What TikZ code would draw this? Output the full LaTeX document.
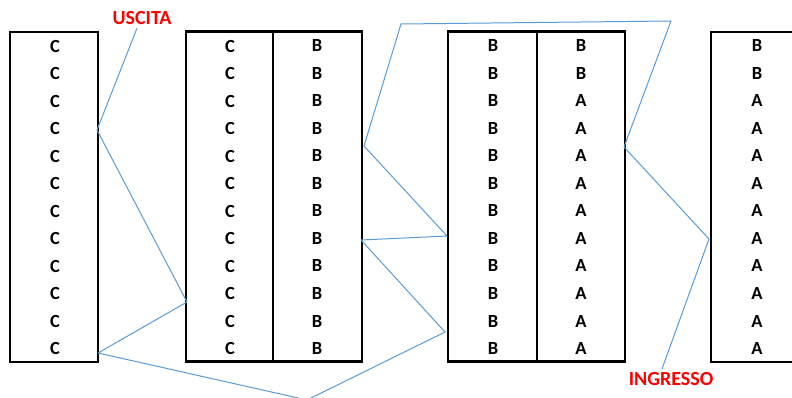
\documentclass[tikz,border=0pt]{standalone}
\usepackage{fontspec}
\setmainfont{Carlito}
\usepackage{tikz}
\usetikzlibrary{positioning}
\definecolor{flowblue}{RGB}{91,155,213}
\newcommand{\lettfont}{\bfseries\fontsize{18.5}{21}\selectfont}
\newcommand{\lblfont}{\bfseries\fontsize{20}{22}\selectfont}

\begin{document}
\begin{tikzpicture}[
    x=1pt, y=-1pt,
    box/.style={draw, line width=2.8pt, inner sep=0pt, minimum height=330pt},
    letter/.style={font=\lettfont, inner sep=0pt},
    lbl/.style={text=red, font=\lblfont},
    flow/.style={draw=flowblue, line width=1pt, line join=round}
]
\useasboundingbox (0,0) rectangle (792,398);

% boxes
\node[box, minimum width=88pt] (m1) at (54,197) {};
\node[box, minimum width=176pt] (m2) at (274,196.5) {};
\node[box, minimum width=177pt] (m3) at (536.5,196.5) {};
\node[box, minimum width=92pt] (m4) at (757,197) {};
\draw[line width=2.8pt] (273,32) -- (273,361);
\draw[line width=2.8pt] (537,32) -- (537,361);

% letters
\foreach \i in {1,...,12} {
  \pgfmathsetmacro{\ry}{46+27.5*(\i-1)}
  \node[letter] (c1-\i) at (55,\ry) {C};
  \node[letter] (c2-\i) at (230,\ry) {C};
  \node[letter] (b2-\i) at (317,\ry) {B};
  \node[letter] (b3-\i) at (493,\ry) {B};
  \node[letter] (x3-\i) at (581,\ry) {\ifnum\i<3 B\else A\fi};
  \node[letter] (x4-\i) at (757,\ry) {\ifnum\i<3 B\else A\fi};
}

% labels
\node[lbl] (uscita) at (142,18) {USCITA};
\node[lbl] (ingresso) at (671,379) {INGRESSO};

% bends of the path
\coordinate (p1) at (97,130);
\coordinate (p2) at (187,302);
\coordinate (p3) at (98,353);
\coordinate (p4) at (307,400);
\coordinate (p5) at (445,332);
\coordinate (p6) at (361,240);
\coordinate (p7) at (447,236);
\coordinate (p8) at (364,146);
\coordinate (p9) at (401,24);
\coordinate (p10) at (671,21);
\coordinate (p11) at (624,147);
\coordinate (p12) at (709,239);

\draw[flow] ([xshift=-5pt]uscita.south) -- (p1) -- (p2) -- (p3) -- (p4) -- (p5)
  -- (p6) -- (p7) -- (p8) -- (p9) -- (p10) -- (p11) -- (p12)
  -- ([xshift=-9pt]ingresso.north);

\end{tikzpicture}
\end{document}
